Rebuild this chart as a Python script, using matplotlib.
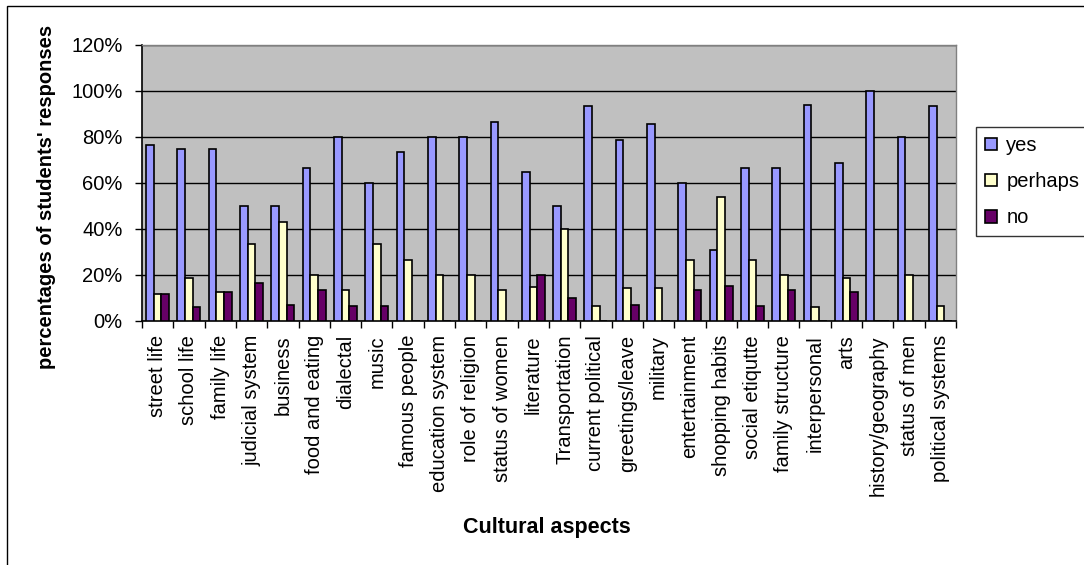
import matplotlib
matplotlib.use("Agg")
import matplotlib.pyplot as plt
import numpy as np
from matplotlib.ticker import FuncFormatter, FixedLocator
from matplotlib.patches import Rectangle

plt.rcParams['font.family'] = ['Liberation Sans', 'DejaVu Sans']

categories = ["street life", "school life", "family life", "judicial system", "business",
              "food and eating", "dialectal", "music", "famous people", "education system",
              "role of religion", "status of women", "literature", "Transportation",
              "current political", "greetings/leave", "military", "entertainment",
              "shopping habits", "social etiqutte", "family structure", "interpersonal",
              "arts", "history/geography", "status of men", "political systems"]

yes_vals = [76.5, 75.0, 75.0, 50.0, 50.0, 66.7, 80.0, 60.0, 73.3, 80.0,
            80.0, 86.7, 65.0, 50.0, 93.3, 78.6, 85.7, 60.0,
            30.8, 66.7, 66.7, 93.75, 68.75, 100.0, 80.0, 93.3]
perhaps_vals = [11.8, 18.75, 12.5, 33.3, 42.9, 20.0, 13.3, 33.3, 26.7, 20.0,
                20.0, 13.3, 15.0, 40.0, 6.7, 14.3, 14.3, 26.7,
                53.8, 26.7, 20.0, 6.25, 18.75, 0.0, 20.0, 6.7]
no_vals = [11.8, 6.25, 12.5, 16.7, 7.1, 13.3, 6.7, 6.7, 0.0, 0.0,
           0.0, 0.0, 20.0, 10.0, 0.0, 7.1, 0.0, 13.3,
           15.4, 6.7, 13.3, 0.0, 12.5, 0.0, 0.0, 0.0]

series_names = ["yes", "perhaps", "no"]
series_colors = ["#9999FF", "#FFFFCC", "#660066"]
y_ticks = [0, 20, 40, 60, 80, 100, 120]

W, H = 1084, 565
fig = plt.figure(figsize=(W / 100, H / 100), dpi=100)
fig.patch.set_facecolor("white")

# outer chart frame (only the left and top edges fall inside the canvas)
fig.patches.append(Rectangle((7 / W, -0.1), 2.0, 1.1 - 6 / H, transform=fig.transFigure,
                             fill=False, edgecolor="black", linewidth=1.0))

ax = fig.add_axes([142 / W, (H - 321) / H, (956 - 142) / W, (321 - 45) / H])
ax.set_facecolor("#C0C0C0")

x = np.arange(len(categories))
bw = 0.245
for k, (vals, name, col) in enumerate(zip([yes_vals, perhaps_vals, no_vals],
                                          series_names, series_colors)):
    ax.bar(x + (k - 1) * bw, vals, width=bw, color=col, edgecolor="black",
           linewidth=1.2, label=name, zorder=3)

ax.set_xlim(-0.5, len(categories) - 0.5)
ax.set_ylim(0, 120)
ax.set_yticks(y_ticks)
ax.yaxis.set_major_formatter(FuncFormatter(lambda v, p: f"{int(v)}%"))
ax.yaxis.grid(True, color="black", linewidth=1.0, zorder=1)
ax.set_axisbelow(True)

ax.set_xticks(x)
ax.set_xticklabels(categories, rotation=90, fontsize=14.5, va="top", ha="center")
ax.xaxis.set_minor_locator(FixedLocator(np.arange(-0.5, len(categories), 1.0)))
ax.tick_params(axis="x", which="major", length=0, pad=10)
ax.tick_params(axis="x", which="minor", length=5, width=1, color="black")
ax.tick_params(axis="y", length=5, width=1, color="black", labelsize=14.5, pad=9)

for s in ["top", "right"]:
    ax.spines[s].set_color("#808080")
    ax.spines[s].set_linewidth(1.0)
for s in ["left", "bottom"]:
    ax.spines[s].set_color("black")
    ax.spines[s].set_linewidth(1.2)

fig.text(47 / W, 1 - 197 / H, "percentages of students' responses", rotation=90,
         ha="center", va="center", fontsize=14.5, fontweight="bold")
fig.text(547 / W, 1 - 527 / H, "Cultural aspects", ha="center", va="center",
         fontsize=15.5, fontweight="bold")

leg = ax.legend(loc="upper left", bbox_to_anchor=(976 / W, 1 - 127 / H),
                bbox_transform=fig.transFigure, frameon=True, fancybox=False,
                fontsize=14.5, handlelength=0.6, handleheight=0.6, handletextpad=0.45,
                labelspacing=0.85, borderpad=0.45, borderaxespad=0)
leg.get_frame().set_edgecolor("black")
leg.get_frame().set_linewidth(1.0)

fig.savefig("out.png", dpi=100, facecolor="white")
